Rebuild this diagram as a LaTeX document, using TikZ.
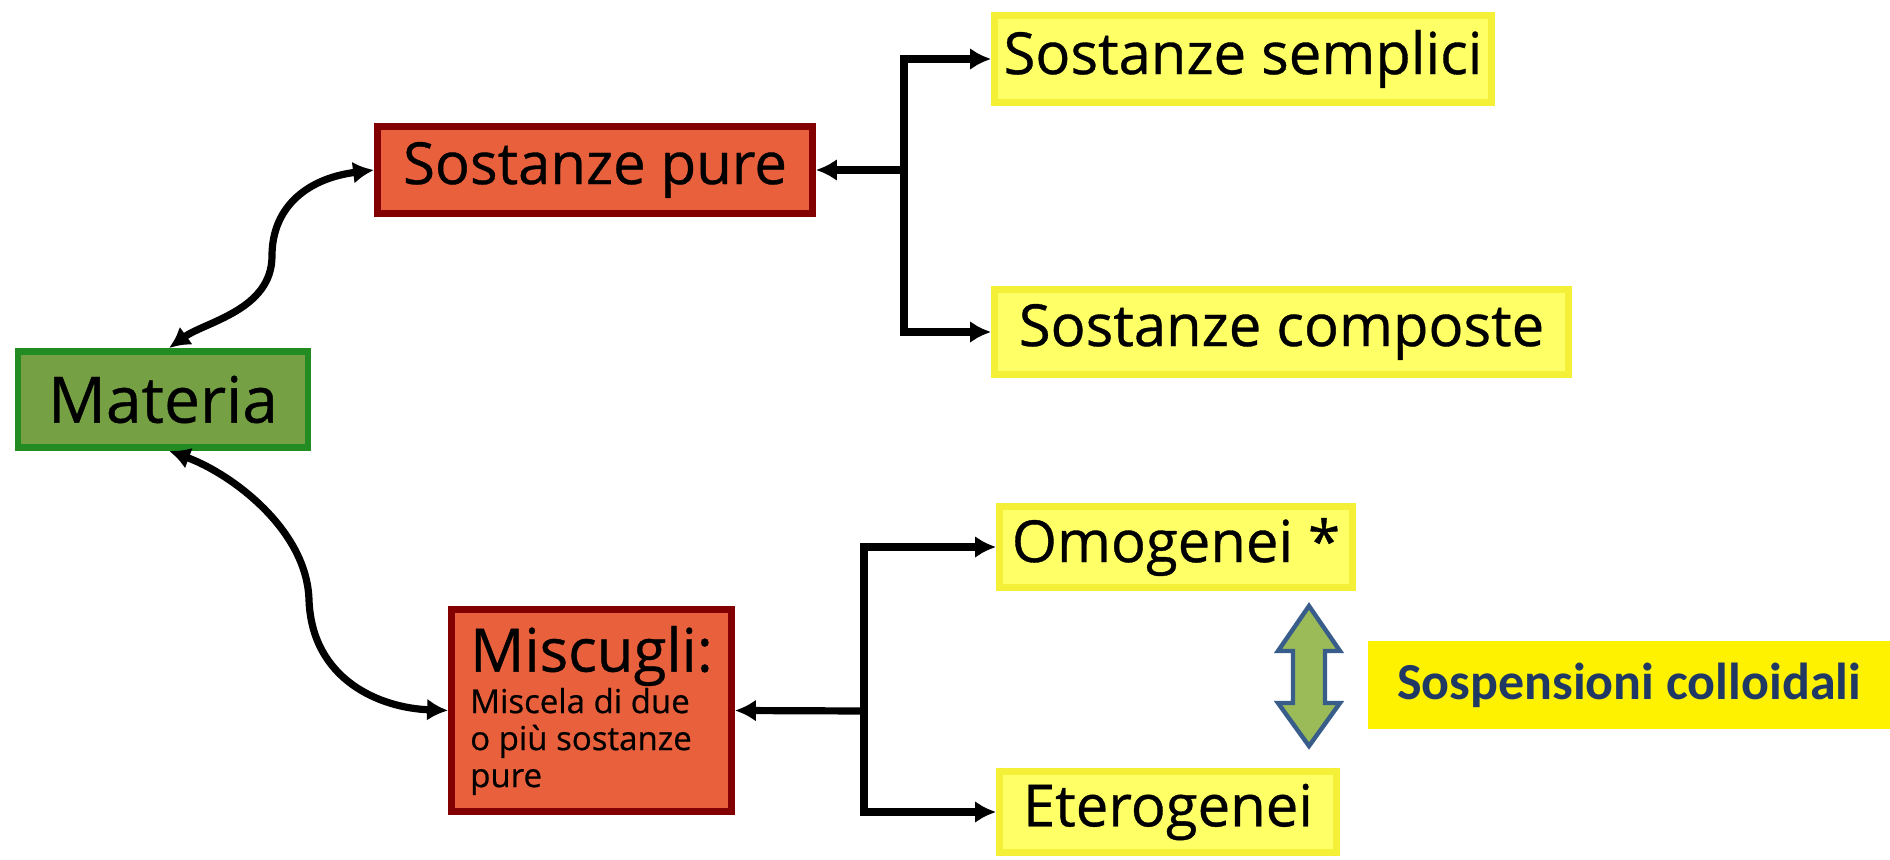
\documentclass[tikz,border=0pt]{standalone}
\usepackage{fontspec}
\setmainfont{Open Sans}[FakeBold=0.6]
\newfontfamily\calibrifont{Carlito}
\usetikzlibrary{arrows.meta}

\definecolor{matfill}{RGB}{118,160,68}
\definecolor{matedge}{RGB}{34,139,34}
\definecolor{redfill}{RGB}{233,96,60}
\definecolor{rededge}{RGB}{130,0,0}
\definecolor{yelfill}{RGB}{255,255,102}
\definecolor{yeledge}{RGB}{244,240,56}
\definecolor{navy}{RGB}{31,56,100}
\definecolor{arrfill}{RGB}{155,187,89}
\definecolor{arredge}{RGB}{56,93,138}

\begin{document}
\begin{tikzpicture}[x=0.5pt,y=-0.5pt,
  box/.style={draw, line width=3.4pt, inner sep=0pt, font=\fontsize{29}{34}\selectfont},
  greenbox/.style={box, fill=matfill, draw=matedge},
  redbox/.style={box, fill=redfill, draw=rededge},
  yelbox/.style={box, fill=yelfill, draw=yeledge, line width=3.4pt},
  link/.style={line width=3.6pt, -{Latex[length=10.5pt,width=11pt]}},
  dlink/.style={line width=3.6pt, {Latex[length=10.5pt,width=11pt]}-{Latex[length=10.5pt,width=11pt]}}
]
\useasboundingbox (0,0) rectangle (1890,860);

% boxes
\node[greenbox, minimum width=145pt, minimum height=48pt, font=\fontsize{32}{36}\selectfont]
  (mat) at (163,399.5) {Materia};
\node[redbox, minimum width=217.5pt, minimum height=43.5pt] (pure) at (595,170) {Sostanze pure};
\node[yelbox, minimum width=248.5pt, minimum height=43.5pt] (semp) at (1243,59) {Sostanze semplici};
\node[yelbox, minimum width=287pt, minimum height=42.5pt] (comp) at (1281.5,332) {Sostanze composte};
\node[yelbox, minimum width=176.5pt, minimum height=40.5pt] (omog) at (1176,547) {Omogenei *};
\node[yelbox, minimum width=168.5pt, minimum height=40.5pt] (eter) at (1168,812) {Eterogenei};
\node[redbox, minimum width=140pt, minimum height=101pt, align=left,
  font=\fontsize{16.5}{18.5}\selectfont] (misc) at (591.5,710.5)
  {{\fontsize{30}{30}\selectfont Miscugli:}\\Miscela di due\\o più sostanze\\pure};
\node[fill=yellow, inner sep=0pt, minimum width=261pt, minimum height=44pt,
  font=\calibrifont\bfseries\fontsize{26}{30}\selectfont, text=navy]
  (coll) at (1629,685) {Sospensioni colloidali};

% branching connectors
\coordinate (ju) at (904,170);
\coordinate (jl) at (864,711);
\draw[link] (ju) -- (pure.east);
\draw[link] (ju) |- (semp.west);
\draw[link] (ju) |- (comp.west);
\draw[link] (jl) -- (misc.east);
\draw[link] (jl) |- (omog.west);
\draw[link] (jl) |- (eter.west);

% curved links from Materia
\draw[dlink] ([xshift=3pt]mat.north) .. controls (205,322) and (272,310) .. (272,256)
  .. controls (272,205) and (310,178) .. (pure.west);
\draw[dlink] ([xshift=3pt]mat.south) .. controls (232,474) and (307,530) .. (309,600)
  .. controls (312,680) and (380,708) .. (misc.west);

% double arrow between Omogenei and Eterogenei
\filldraw[fill=arrfill, draw=arredge, line width=2.2pt, line join=miter]
  (1309,606) -- (1340,651) -- (1325,651) -- (1325,703) -- (1340,703) -- (1309,746)
  -- (1278,703) -- (1293,703) -- (1293,651) -- (1278,651) -- cycle;
\end{tikzpicture}
\end{document}
